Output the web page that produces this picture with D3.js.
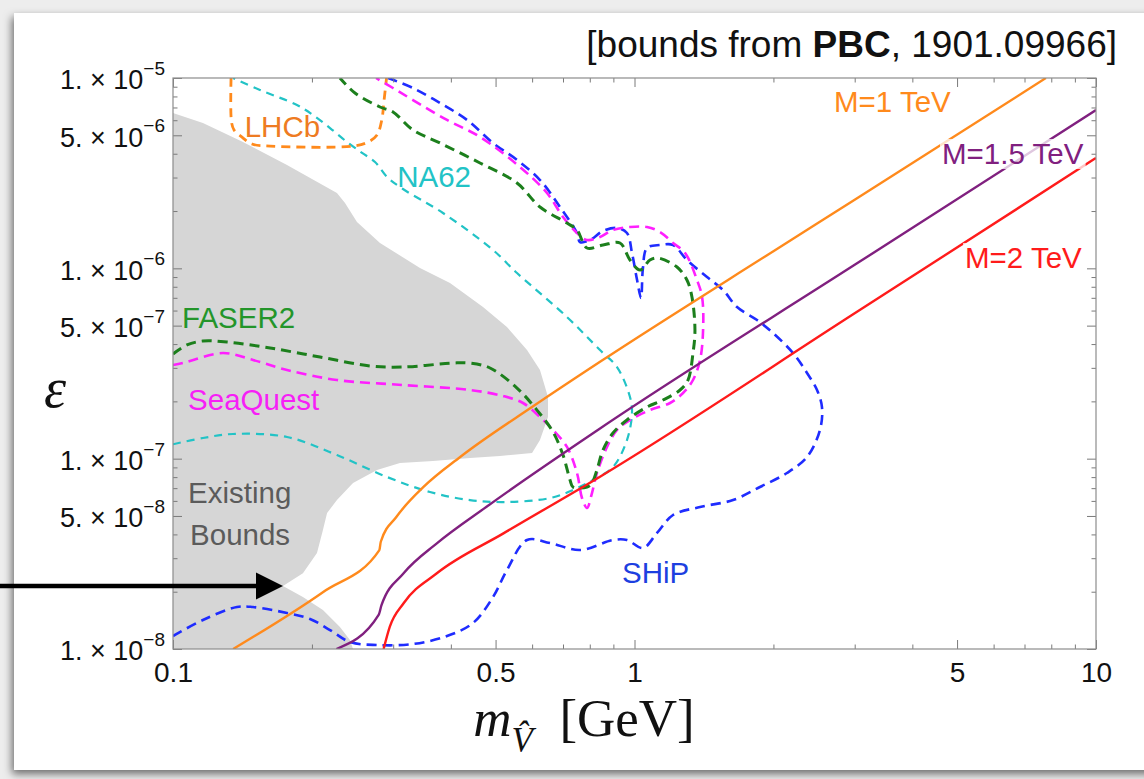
<!DOCTYPE html>
<html>
<head>
<meta charset="utf-8">
<script src="https://cdn.jsdelivr.net/npm/d3@7"></script>
<style>
  html, body { margin: 0; padding: 0; background: #ececec; }
  svg { display: block; }
</style>
</head>
<body>
<svg id="chart" width="1144" height="779"></svg>
<script>
// ---- axis ticks ----
const xMajor = [0.1, 0.5, 1, 5, 10];
const xMajorLabels = ["0.1", "0.5", "1", "5", "10"];
const xMinor = [0.2, 0.3, 0.4, 0.6, 0.7, 0.8, 0.9, 2, 3, 4, 6, 7, 8, 9];
const yMajor = [1e-5, 5e-6, 1e-6, 5e-7, 1e-7, 5e-8, 1e-8];
const yMajorLabels = [["1.", "−5"], ["5.", "−6"], ["1.", "−6"], ["5.", "−7"], ["1.", "−7"], ["5.", "−8"], ["1.", "−8"]];
const yMinor = [2e-8, 3e-8, 4e-8, 6e-8, 7e-8, 8e-8, 9e-8,
                2e-7, 3e-7, 4e-7, 6e-7, 7e-7, 8e-7, 9e-7,
                2e-6, 3e-6, 4e-6, 6e-6, 7e-6, 8e-6, 9e-6];

// ---- excluded region (mass GeV, epsilon) ----
const existingBounds = [
  [0.1, 6.55e-6], [0.1161, 5.80e-6], [0.1418, 4.61e-6], [0.1766, 3.49e-6], [0.2266, 2.488e-6],
  [0.2359, 2.204e-6], [0.2504, 1.751e-6], [0.2809, 1.359e-6], [0.3429, 1.004e-6], [0.3983, 8.37e-7],
  [0.4696, 6.26e-7], [0.5292, 4.92e-7], [0.5849, 3.72e-7], [0.6240, 2.923e-7], [0.6495, 2.109e-7],
  [0.6495, 1.655e-7], [0.6240, 1.253e-7], [0.5998, 1.071e-7], [0.5111, 1.033e-7], [0.4401, 1.008e-7],
  [0.3659, 9.72e-8], [0.3103, 9.49e-8], [0.2767, 8.72e-8], [0.2455, 7.45e-8], [0.2266, 6.06e-8],
  [0.2157, 5.18e-8], [0.2113, 4.22e-8], [0.2051, 3.19e-8], [0.1912, 2.50e-8], [0.1731, 2.142e-8],
  [0.1912, 1.876e-8], [0.2113, 1.603e-8], [0.2300, 1.305e-8], [0.2418, 1.115e-8], [0.2455, 1.0e-8],
  [0.1, 1.0e-8]
];

// ---- projected sensitivities ----
const lhcb = [
  [0.1336, 1e-5], [0.1339, 5.87e-6], [0.1356, 5.33e-6], [0.1409, 4.90e-6], [0.1483, 4.50e-6],
  [0.1623, 4.39e-6], [0.2455, 4.39e-6], [0.2646, 4.61e-6], [0.2767, 5.02e-6], [0.2834, 6.02e-6],
  [0.2867, 7.66e-6], [0.2902, 1e-5]
];
const na62 = [
  [0.1, 1.19e-7], [0.1161, 1.284e-7], [0.1349, 1.348e-7], [0.1766, 1.30e-7], [0.2266, 1.045e-7],
  [0.2909, 8.01e-8], [0.3605, 6.68e-8], [0.4401, 6.06e-8], [0.5292, 5.92e-8], [0.6559, 6.21e-8],
  [0.7357, 6.84e-8], [0.8131, 7.73e-8], [0.8982, 9.04e-8], [0.9632, 1.253e-7], [0.9876, 1.738e-7],
  [0.9777, 2.109e-7], [0.9165, 3.03e-7], [0.8418, 3.72e-7], [0.7140, 5.55e-7], [0.5564, 9.45e-7],
  [0.4937, 1.248e-6], [0.3846, 1.953e-6], [0.3150, 2.61e-6], [0.2909, 3.02e-6], [0.2740, 3.62e-6],
  [0.2568, 4.04e-6], [0.2382, 4.61e-6], [0.2189, 5.46e-6], [0.2011, 6.39e-6], [0.1856, 7.21e-6],
  [0.1543, 8.65e-6], [0.1349, 1e-5]
];
const faser2 = [
  [0.1, 3.548e-7], [0.1072, 3.956e-7], [0.1161, 4.152e-7], [0.1309, 4.10e-7], [0.1623, 3.815e-7],
  [0.2082, 3.42e-7], [0.2673, 3.07e-7], [0.3150, 3.03e-7], [0.4044, 3.18e-7], [0.4401, 3.18e-7],
  [0.4863, 2.995e-7], [0.5564, 2.35e-7], [0.6147, 1.80e-7], [0.6660, 1.381e-7], [0.7001, 1.045e-7],
  [0.7249, 7.73e-8], [0.7357, 7.10e-8], [0.7889, 7.10e-8], [0.8088, 7.45e-8], [0.8292, 8.72e-8],
  [0.8545, 1.11e-7], [0.8982, 1.364e-7], [0.9632, 1.596e-7], [1.0644, 1.868e-7], [1.153, 2.033e-7],
  [1.255, 2.295e-7], [1.306, 2.59e-7], [1.339, 3.59e-7], [1.352, 4.74e-7], [1.332, 7.07e-7],
  [1.299, 8.68e-7], [1.236, 1.016e-6], [1.124, 1.133e-6], [1.080, 1.106e-6], [1.028, 9.80e-7],
  [0.9777, 1.106e-6], [0.9302, 1.359e-6], [0.8545, 1.326e-6], [0.7889, 1.279e-6], [0.7506, 1.590e-6],
  [0.7140, 1.730e-6], [0.6240, 2.10e-6], [0.5564, 2.808e-6], [0.4626, 3.575e-6], [0.3789, 4.555e-6],
  [0.3311, 5.33e-6], [0.2997, 6.63e-6], [0.2809, 7.04e-6], [0.2479, 8.34e-6], [0.2300, 1e-5]
];
const seaQuest = [
  [0.1, 3.105e-7], [0.1051, 3.18e-7], [0.1283, 3.59e-7], [0.1490, 3.30e-7], [0.1766, 2.923e-7],
  [0.2266, 2.59e-7], [0.3150, 2.438e-7], [0.4401, 2.295e-7], [0.5189, 2.134e-7], [0.5733, 1.961e-7],
  [0.6240, 1.655e-7], [0.6660, 1.415e-7], [0.7140, 1.152e-7], [0.7506, 8.41e-8], [0.7695, 6.21e-8],
  [0.7889, 5.51e-8], [0.8088, 6.60e-8], [0.8292, 8.41e-8], [0.8717, 1.152e-7], [0.9165, 1.415e-7],
  [0.9777, 1.596e-7], [1.080, 1.80e-7], [1.194, 1.961e-7], [1.274, 2.213e-7], [1.339, 2.59e-7],
  [1.387, 3.30e-7], [1.408, 4.74e-7], [1.401, 7.07e-7], [1.366, 8.68e-7], [1.287, 1.204e-6],
  [1.212, 1.359e-6], [1.136, 1.552e-6], [1.0644, 1.649e-6], [0.9777, 1.649e-6], [0.8982, 1.590e-6],
  [0.8418, 1.461e-6], [0.7889, 1.409e-6], [0.7506, 1.533e-6], [0.7001, 1.861e-6], [0.6462, 2.488e-6],
  [0.5648, 3.406e-6], [0.4626, 4.90e-6], [0.3924, 6.02e-6], [0.3311, 7.66e-6], [0.2997, 8.86e-6],
  [0.2754, 1e-5]
];
const ship = [
  [0.1, 1.170e-8], [0.1161, 1.420e-8], [0.1376, 1.662e-8], [0.1490, 1.662e-8], [0.1766, 1.546e-8],
  [0.1981, 1.438e-8], [0.2189, 1.258e-8], [0.2418, 1.088e-8], [0.2767, 1.049e-8], [0.3311, 1.062e-8],
  [0.3924, 1.170e-8], [0.4467, 1.369e-8], [0.4937, 1.876e-8], [0.5292, 2.60e-8], [0.5849, 3.737e-8],
  [0.6559, 3.605e-8], [0.7619, 3.31e-8], [0.8982, 3.737e-8], [0.9632, 3.737e-8], [1.043, 3.393e-8],
  [1.119, 4.07e-8], [1.212, 5.06e-8], [1.387, 5.57e-8], [1.635, 6.06e-8], [1.870, 7.10e-8],
  [2.140, 8.41e-8], [2.365, 1.020e-7], [2.523, 1.415e-7], [2.548, 1.868e-7], [2.486, 2.295e-7],
  [2.365, 2.819e-7], [2.205, 3.59e-7], [1.996, 4.574e-7], [1.843, 5.35e-7], [1.668, 6.26e-7],
  [1.556, 7.69e-7], [1.436, 9.00e-7], [1.299, 1.106e-6], [1.212, 1.326e-6], [1.136, 1.326e-6],
  [1.0644, 1.279e-6], [1.043, 1.004e-6], [1.033, 6.98e-7], [1.013, 8.68e-7], [0.9876, 1.204e-6],
  [0.9632, 1.533e-6], [0.9165, 1.629e-6], [0.8545, 1.571e-6], [0.8009, 1.409e-6], [0.7619, 1.375e-6],
  [0.7506, 1.533e-6], [0.6897, 2.10e-6], [0.6240, 2.911e-6], [0.5564, 3.71e-6], [0.4937, 4.555e-6],
  [0.4336, 6.02e-6], [0.3789, 7.39e-6], [0.3311, 8.86e-6], [0.2924, 1e-5]
];

// ---- benchmark lines for the heavy mediator mass M ----
const mass1TeV = [
  [0.135, 1.0e-8], [0.212, 2.0e-8], [0.280, 3.31e-8], [0.282, 3.66e-8], [0.305, 4.95e-8],
  [0.349, 7.1e-8], [0.419, 1.02e-7], [0.604, 1.89e-7], [0.842, 3.23e-7], [2.0, 1.23e-6],
  [3.0, 2.29e-6], [7.79, 1.0e-5]
];
const mass15TeV = [
  [0.226, 1.0e-8], [0.279, 1.51e-8], [0.283, 1.70e-8], [0.316, 2.50e-8], [0.373, 3.59e-8],
  [0.478, 5.59e-8], [0.842, 1.44e-7], [3.0, 1.043e-6], [10, 6.79e-6]
];
const mass2TeV = [
  [0.286, 1.0e-8], [0.295, 1.31e-8], [0.316, 1.74e-8], [0.373, 2.50e-8], [0.520, 4.05e-8],
  [0.842, 8.04e-8], [3.0, 5.8e-7], [10, 3.80e-6]
];

// ---- text annotations, anchored at (mass, epsilon) ----
const curveLabels = [
  { text: "LHCb", at: [0.143, 4.9e-6], color: "#ee7b22" },
  { text: "NA62", at: [0.306, 2.68e-6], color: "#22c3c6" },
  { text: "FASER2", at: [0.1046, 4.86e-7], color: "#23952a" },
  { text: "SeaQuest", at: [0.1078, 1.80e-7], color: "#f61ff6" },
  { text: "SHiP", at: [0.9395, 2.222e-8], color: "#1d3fe0" }
];
const boundsLabel = { lines: ["Existing", "Bounds"], at: [0.1078, 5.85e-8], color: "#5b5b5b" };
const massLabels = [
  { text: "M=1 TeV", at: [2.706, 6.63e-6], color: "#ff8a1c" },
  { text: "M=1.5 TeV", at: [4.638, 3.534e-6], color: "#80207f" },
  { text: "M=2 TeV", at: [5.203, 1.004e-6], color: "#ff1b1b" }
];
const arrowTip = [0.1731, 2.142e-8];

// ---- layout ----
const W = 1144, H = 779;
const x = d3.scaleLog().domain([0.1, 10]).range([173, 1096]);
const y = d3.scaleLog().domain([1e-8, 1e-5]).range([649, 78]);
const [x0, x1] = x.range();
const [y1, y0] = y.range();
const sans = "'Liberation Sans', Arial, Helvetica, sans-serif";
const serif = "'Liberation Serif', 'Times New Roman', serif";
const labelSize = 29.5;

const svg = d3.select("#chart");
const defs = svg.append("defs");

const shadow = defs.append("filter").attr("id", "cardShadow")
  .attr("x", "-5%").attr("y", "-5%").attr("width", "110%").attr("height", "110%");
shadow.append("feDropShadow").attr("dx", -2).attr("dy", 4).attr("stdDeviation", 4)
  .attr("flood-color", "#000").attr("flood-opacity", 0.55);

defs.append("clipPath").attr("id", "plotClip").append("rect")
  .attr("x", x0).attr("y", y0).attr("width", x1 - x0).attr("height", y1 - y0);

// page background and card
svg.append("rect").attr("width", W).attr("height", H).attr("fill", "#ededed");
svg.append("rect").attr("x", 14).attr("y", 13).attr("width", W + 40).attr("height", 757)
  .attr("fill", "#fff").attr("filter", "url(#cardShadow)");

const plot = svg.append("g").attr("clip-path", "url(#plotClip)");

const line = d3.line().x(d => x(d[0])).y(d => y(d[1])).curve(d3.curveCatmullRom.alpha(0.5));
const smooth = d3.line().x(d => x(d[0])).y(d => y(d[1])).curve(d3.curveMonotoneX);
const poly = d3.line().x(d => x(d[0])).y(d => y(d[1])).curve(d3.curveLinearClosed);

plot.append("path").attr("d", poly(existingBounds)).attr("fill", "#d6d6d6");

const dashedCurves = [
  { data: na62, color: "#22c3c6", width: 2.2, dash: "8,6" },
  { data: lhcb, color: "#ff8a1c", width: 2.8, dash: "9,6" },
  { data: ship, color: "#1f2cff", width: 2.6, dash: "10,6" },
  { data: seaQuest, color: "#ff1fff", width: 2.6, dash: "10,6" },
  { data: faser2, color: "#1c7f1c", width: 3.0, dash: "10,6" }
];
dashedCurves.forEach(c => {
  plot.append("path").attr("d", line(c.data)).attr("fill", "none")
    .attr("stroke", c.color).attr("stroke-width", c.width).attr("stroke-dasharray", c.dash);
});

const massCurves = [
  { data: mass1TeV, color: "#ff8a1c" },
  { data: mass15TeV, color: "#80207f" },
  { data: mass2TeV, color: "#ff1b1b" }
];
massCurves.forEach(c => {
  plot.append("path").attr("d", smooth(c.data)).attr("fill", "none")
    .attr("stroke", c.color).attr("stroke-width", 2.4);
});

// ---- frame and ticks ----
const tickColor = "#7a7a7a";
function styleAxis(g) {
  g.select(".domain").remove();
  g.selectAll(".tick line").attr("stroke", tickColor).attr("stroke-width", 1);
}
const axes = svg.append("g");
axes.append("g").attr("transform", `translate(0,${y1})`)
  .call(d3.axisBottom(x).tickValues(xMinor).tickSize(-4.5).tickFormat("")).call(styleAxis);
axes.append("g").attr("transform", `translate(0,${y0})`)
  .call(d3.axisTop(x).tickValues(xMinor).tickSize(-4.5).tickFormat("")).call(styleAxis);
axes.append("g").attr("transform", `translate(0,${y0})`)
  .call(d3.axisTop(x).tickValues(xMajor).tickSize(-9).tickFormat("")).call(styleAxis);
axes.append("g").attr("transform", `translate(${x0},0)`)
  .call(d3.axisLeft(y).tickValues(yMinor).tickSize(-4.5).tickFormat("")).call(styleAxis);
axes.append("g").attr("transform", `translate(${x1},0)`)
  .call(d3.axisRight(y).tickValues(yMinor).tickSize(-4.5).tickFormat("")).call(styleAxis);
axes.append("g").attr("transform", `translate(${x1},0)`)
  .call(d3.axisRight(y).tickValues(yMajor).tickSize(-9).tickFormat("")).call(styleAxis);

const xAxis = axes.append("g").attr("transform", `translate(0,${y1})`)
  .call(d3.axisBottom(x).tickValues(xMajor).tickSize(-9).tickPadding(13)
    .tickFormat((d, i) => xMajorLabels[i]))
  .call(styleAxis);
xAxis.selectAll(".tick text").attr("font-family", sans).attr("font-size", 28).attr("fill", "#111");

const yAxis = axes.append("g").attr("transform", `translate(${x0},0)`)
  .call(d3.axisLeft(y).tickValues(yMajor).tickSize(-9).tickPadding(8).tickFormat(""))
  .call(styleAxis);
yAxis.selectAll(".tick text").each(function (d, i) {
  const t = d3.select(this).attr("font-family", sans).attr("font-size", 27)
    .attr("fill", "#111").attr("dy", "0.4em");
  t.append("tspan").text(yMajorLabels[i][0] + " × 10");
  t.append("tspan").attr("font-size", 19).attr("dy", "-0.75em").text(yMajorLabels[i][1]);
});

axes.append("rect").attr("x", x0).attr("y", y0).attr("width", x1 - x0).attr("height", y1 - y0)
  .attr("fill", "none").attr("stroke", "#8c8c8c").attr("stroke-width", 1.2);

// ---- labels ----
curveLabels.forEach(l => {
  svg.append("text").attr("x", x(l.at[0])).attr("y", y(l.at[1]))
    .attr("font-family", sans).attr("font-size", labelSize).attr("fill", l.color).text(l.text);
});
const bl = svg.append("text").attr("x", x(boundsLabel.at[0])).attr("y", y(boundsLabel.at[1]))
  .attr("font-family", sans).attr("font-size", labelSize).attr("fill", boundsLabel.color);
boundsLabel.lines.forEach((s, i) => {
  bl.append("tspan").attr("x", x(boundsLabel.at[0]) + i * 2).attr("dy", i ? 42 : 0).text(s);
});

massLabels.forEach(l => {
  const g = svg.append("g");
  const t = g.append("text").attr("x", x(l.at[0])).attr("y", y(l.at[1]))
    .attr("font-family", sans).attr("font-size", labelSize).attr("fill", l.color).text(l.text);
  const b = t.node().getBBox();
  g.insert("rect", "text").attr("x", b.x - 2).attr("y", b.y + 2).attr("width", b.width + 4)
    .attr("height", b.height - 3).attr("fill", "#fff").attr("fill-opacity", 0.75);
});

// title
const title = svg.append("text").attr("x", 1117).attr("y", 57).attr("text-anchor", "end")
  .attr("font-family", sans).attr("font-size", 37).attr("fill", "#111");
title.append("tspan").text("[bounds from ");
title.append("tspan").attr("font-weight", "bold").text("PBC");
title.append("tspan").text(", 1901.09966]");

// axis titles
const xt = svg.append("text").attr("x", 584).attr("y", 736).attr("text-anchor", "middle")
  .attr("font-family", serif).attr("font-size", 53).attr("fill", "#111");
xt.append("tspan").attr("font-style", "italic").text("m");
xt.append("tspan").attr("font-style", "italic").attr("font-size", 35).attr("dy", 16).text("V\u0302");
xt.append("tspan").attr("dy", -16).text("\u2002[GeV]");

svg.append("text").attr("x", 55).attr("y", 407).attr("text-anchor", "middle")
  .attr("font-family", serif).attr("font-style", "italic").attr("font-size", 56)
  .attr("fill", "#111").text("ε");

// arrow pointing at the gap in the existing bounds
const tip = [x(arrowTip[0]), y(arrowTip[1])];
svg.append("line").attr("x1", 0).attr("y1", tip[1]).attr("x2", tip[0] - 24).attr("y2", tip[1])
  .attr("stroke", "#000").attr("stroke-width", 4.5);
svg.append("path")
  .attr("d", `M${tip[0]},${tip[1]} L${tip[0] - 27},${tip[1] - 13.5} L${tip[0] - 27},${tip[1] + 13.5} Z`)
  .attr("fill", "#000");
</script>
</body>
</html>
